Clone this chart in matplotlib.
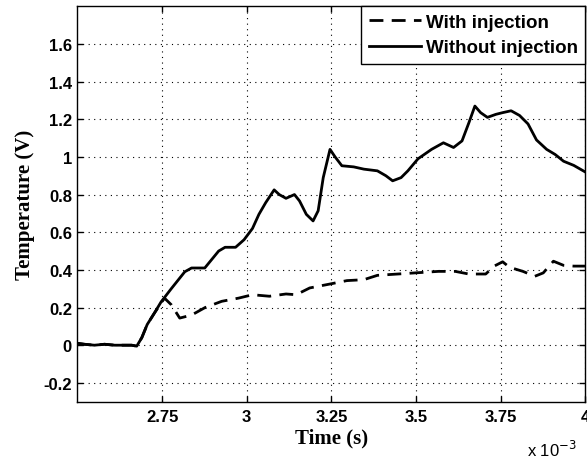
import numpy as np
import matplotlib
matplotlib.use("Agg")
import matplotlib.pyplot as plt
from matplotlib.ticker import FuncFormatter

# ==============================
# DATOS (tiempo en ms, x 10^-3 s)
# ==============================

t_without = [2.50, 2.52, 2.55, 2.58, 2.61, 2.64, 2.66, 2.675, 2.69, 2.706, 2.727, 2.747,
             2.777, 2.817, 2.837, 2.876, 2.917, 2.936, 2.967, 2.992, 3.017, 3.036,
             3.056, 3.081, 3.096, 3.116, 3.141, 3.156, 3.176, 3.196, 3.211, 3.226,
             3.246, 3.261, 3.281, 3.316, 3.346, 3.386, 3.411, 3.431, 3.456, 3.476,
             3.506, 3.546, 3.581, 3.611, 3.636, 3.656, 3.674, 3.691, 3.711, 3.736,
             3.756, 3.781, 3.806, 3.831, 3.856, 3.886, 3.911, 3.936, 3.966, 4.00]
v_without = [0.01, 0.005, 0.0, 0.005, 0.0, 0.0, 0.0, -0.005, 0.04, 0.11, 0.17, 0.23,
             0.30, 0.39, 0.41, 0.41, 0.50, 0.52, 0.52, 0.56, 0.62, 0.695,
             0.757, 0.825, 0.80, 0.78, 0.80, 0.766, 0.695, 0.66, 0.714, 0.89,
             1.04, 1.0, 0.953, 0.947, 0.935, 0.926, 0.90, 0.873, 0.89, 0.926,
             0.99, 1.04, 1.075, 1.05, 1.085, 1.18, 1.27, 1.235, 1.21, 1.226,
             1.235, 1.245, 1.22, 1.175, 1.09, 1.04, 1.013, 0.977, 0.955, 0.92]

t_with = [2.50, 2.52, 2.55, 2.58, 2.61, 2.64, 2.66, 2.675, 2.69, 2.706, 2.727, 2.757,
          2.777, 2.802, 2.837, 2.877, 2.926, 2.976, 3.017, 3.067, 3.116, 3.146,
          3.186, 3.246, 3.296, 3.346, 3.386, 3.446, 3.506, 3.566, 3.616, 3.656,
          3.706, 3.731, 3.756, 3.776, 3.816, 3.851, 3.876, 3.906, 3.936, 3.966, 4.00]
v_with = [0.01, 0.005, 0.0, 0.005, 0.0, 0.0, 0.0, -0.005, 0.04, 0.11, 0.17, 0.25,
          0.215, 0.144, 0.16, 0.20, 0.233, 0.25, 0.268, 0.26, 0.272, 0.268,
          0.304, 0.325, 0.343, 0.348, 0.371, 0.378, 0.385, 0.392, 0.392, 0.378,
          0.378, 0.42, 0.443, 0.414, 0.392, 0.366, 0.384, 0.446, 0.424, 0.42, 0.42]

x_ticks = [2.75, 3.0, 3.25, 3.5, 3.75, 4.0]
y_ticks = [-0.2, 0, 0.2, 0.4, 0.6, 0.8, 1.0, 1.2, 1.4, 1.6]

# ==============================
# GRAFICO
# ==============================

fig = plt.figure(figsize=(5.87, 4.60), dpi=100)
ax = fig.add_axes([0.132, 0.1246, 0.865, 0.8596])

ax.plot(t_with, v_with, color="black", linestyle=(0, (5, 3)), linewidth=2.0,
        label="With injection")
ax.plot(t_without, v_without, color="black", linestyle="-", linewidth=2.0,
        label="Without injection")

ax.set_xlim(2.5, 4.0)
ax.set_ylim(-0.3, 1.8)
ax.set_xticks(x_ticks)
ax.set_yticks(y_ticks)
ax.xaxis.set_major_formatter(FuncFormatter(lambda v, p: "%g" % v))
ax.yaxis.set_major_formatter(FuncFormatter(lambda v, p: "%g" % round(v, 1)))

ax.tick_params(direction="in", top=True, right=True, length=4, width=1,
               labelsize=12)
ax.tick_params(axis="x", pad=5)
ax.tick_params(axis="y", pad=4)
for lab in ax.get_xticklabels() + ax.get_yticklabels():
    lab.set_family("Liberation Sans")
    lab.set_fontweight("bold")

ax.grid(True, color="black", linestyle=(0, (1, 4)), linewidth=0.8)
for s in ax.spines.values():
    s.set_linewidth(1.0)

ax.set_xlabel("Time (s)", family="Liberation Serif", fontweight="bold",
              fontsize=15, labelpad=3)
ax.set_ylabel("Temperature (V)", family="Liberation Serif", fontweight="bold",
              fontsize=15, labelpad=6)

fig.text(0.94, 0.022, r"x 10$^{-3}$", family="Liberation Sans", fontsize=12,
         ha="center", va="center")

leg = ax.legend(loc="upper right", fancybox=False, framealpha=1,
                edgecolor="black", borderaxespad=0, handlelength=2.8,
                handletextpad=0.25, borderpad=0.4, labelspacing=0.45,
                prop={"family": "Liberation Sans", "size": 13.5, "weight": "bold"})
leg.get_frame().set_linewidth(1.0)

fig.savefig("out.png", dpi=100)
